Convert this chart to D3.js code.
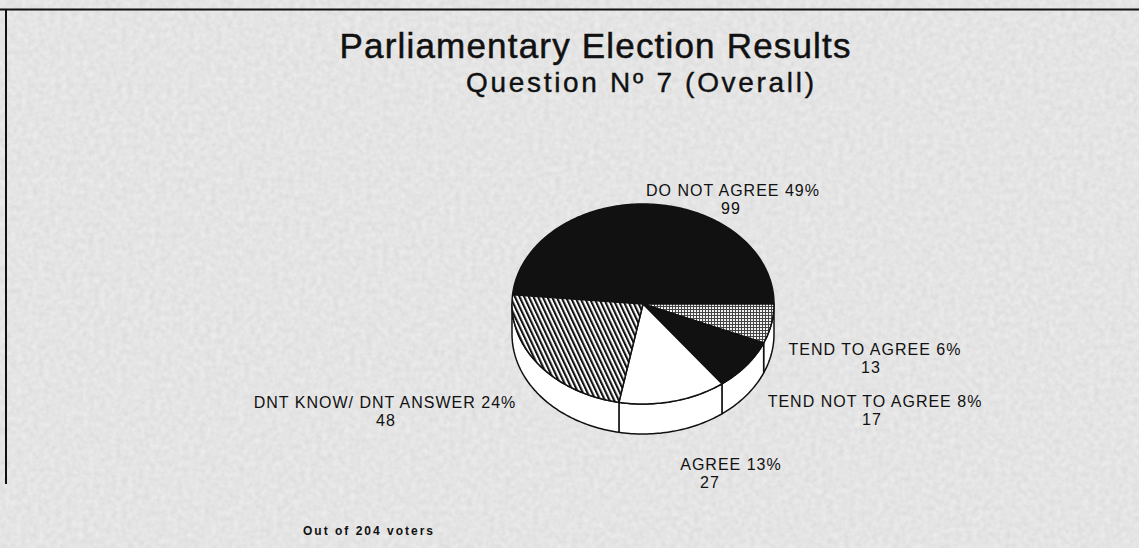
<!DOCTYPE html>
<html>
<head>
<meta charset="utf-8">
<script src="https://cdn.jsdelivr.net/npm/d3@7"></script>
<style>
  html, body { margin: 0; padding: 0; background: #ececec; }
  svg { display: block; }
</style>
</head>
<body>
<svg id="chart" width="1139" height="548"></svg>
<script>
// Survey answers for question 7, overall
const categories = ["DO NOT AGREE", "TEND TO AGREE", "TEND NOT TO AGREE", "AGREE", "DNT KNOW/ DNT ANSWER"];
const counts = [99, 13, 17, 27, 48];
const percents = [49, 6, 8, 13, 24];
const totalVoters = 204;

const titleText = "Parliamentary Election Results";
const subtitleText = "Question N\u00BA 7 (Overall)";

// Layout
const W = 1139, H = 548;
const pieC = { x: 643, y: 304 }, rx = 131, ry = 100, depth = 30;
const fills = ["#111", "url(#grid)", "#111", "#fff", "url(#hatch)"];
const labelAnchor = [[733, 196], [875, 355], [875, 407], [731, 470], [385, 408]];
const countAnchor = [[731, 214], [871, 373], [872, 425], [710, 488], [386, 426]];

const svg = d3.select("#chart");

// Paper background with fine grain
const defs = svg.append("defs");
const noise = defs.append("filter").attr("id", "grain").attr("x", 0).attr("y", 0).attr("width", "100%").attr("height", "100%");
noise.append("feTurbulence").attr("type", "fractalNoise").attr("baseFrequency", 0.18).attr("numOctaves", 2).attr("seed", 4);
noise.append("feColorMatrix").attr("type", "matrix")
  .attr("values", "0 0 0 0 0  0 0 0 0 0  0 0 0 0 0  0 0 0 0.09 0");

const hatch = defs.append("pattern").attr("id", "hatch").attr("patternUnits", "userSpaceOnUse")
  .attr("width", 4.2).attr("height", 4.2).attr("patternTransform", "rotate(-25)");
hatch.append("rect").attr("width", 4.2).attr("height", 4.2).attr("fill", "#fff");
hatch.append("rect").attr("width", 2.1).attr("height", 4.2).attr("fill", "#111");

const grid = defs.append("pattern").attr("id", "grid").attr("patternUnits", "userSpaceOnUse")
  .attr("width", 3).attr("height", 3);
grid.append("rect").attr("width", 3).attr("height", 3).attr("fill", "#f2f2f2");
grid.append("rect").attr("width", 3).attr("height", 1).attr("fill", "#444");
grid.append("rect").attr("width", 1).attr("height", 3).attr("fill", "#444");

svg.append("rect").attr("width", W).attr("height", H).attr("fill", "#efefef");
svg.append("rect").attr("width", W).attr("height", H).attr("filter", "url(#grain)");

// Frame lines
svg.append("line").attr("x1", 0).attr("x2", W).attr("y1", 9.5).attr("y2", 9.5)
  .attr("stroke", "#111").attr("stroke-width", 2);
svg.append("line").attr("x1", 6).attr("x2", 6).attr("y1", 9).attr("y2", 484)
  .attr("stroke", "#111").attr("stroke-width", 2);

// Titles
svg.append("text").attr("x", 595).attr("y", 58).attr("text-anchor", "middle")
  .attr("font-family", "Liberation Sans, Arial, sans-serif").attr("font-size", 35)
  .attr("textLength", 511).attr("lengthAdjust", "spacing")
  .attr("fill", "#111").attr("stroke", "#111").attr("stroke-width", 0.5)
  .text(titleText);
svg.append("text").attr("x", 640).attr("y", 92).attr("text-anchor", "middle")
  .attr("font-family", "Liberation Sans, Arial, sans-serif").attr("font-size", 28)
  .attr("textLength", 348).attr("lengthAdjust", "spacing")
  .attr("fill", "#111").attr("stroke", "#111").attr("stroke-width", 0.4)
  .text(subtitleText);

// Pie layout: the largest slice ends at the right-hand side of the ellipse
const a0 = Math.PI / 2 - 2 * Math.PI * counts[0] / d3.sum(counts);
const pie = d3.pie().sort(null).startAngle(a0).endAngle(a0 + 2 * Math.PI);
const arcs = pie(counts);

const px = a => pieC.x + rx * Math.sin(a);
const py = a => pieC.y - ry * Math.cos(a);
const edge = (s, e, dy) => {
  const n = Math.max(2, Math.ceil(Math.abs(e - s) / 0.02));
  return d3.range(n + 1).map(i => {
    const a = s + (e - s) * i / n;
    return [px(a), py(a) + dy];
  });
};
const pathGen = d3.line();

// Side walls on the front half of the pie
const front0 = Math.PI / 2, front1 = 3 * Math.PI / 2;
const wallLayer = svg.append("g");
arcs.forEach(d => {
  const s = Math.max(d.startAngle, front0), e = Math.min(d.endAngle, front1);
  if (e <= s) return;
  const pts = edge(s, e, 0).concat(edge(e, s, depth));
  wallLayer.append("path").attr("d", pathGen(pts) + "Z")
    .attr("fill", "#fff").attr("stroke", "#111").attr("stroke-width", 1.5)
    .attr("stroke-linejoin", "round");
});

// Top face slices
const faceLayer = svg.append("g");
arcs.forEach((d, i) => {
  const pts = [[pieC.x, pieC.y]].concat(edge(d.startAngle, d.endAngle, 0));
  faceLayer.append("path").attr("d", pathGen(pts) + "Z")
    .attr("fill", fills[i]).attr("stroke", "#111").attr("stroke-width", 1.5)
    .attr("stroke-linejoin", "round");
});

// Slice labels
const labelLayer = svg.append("g").attr("font-family", "Liberation Sans, Arial, sans-serif")
  .attr("font-size", 16).attr("letter-spacing", 1).attr("fill", "#111").attr("text-anchor", "middle");
categories.forEach((c, i) => {
  labelLayer.append("text").attr("x", labelAnchor[i][0]).attr("y", labelAnchor[i][1])
    .text(`${c} ${percents[i]}%`);
  labelLayer.append("text").attr("x", countAnchor[i][0]).attr("y", countAnchor[i][1])
    .text(counts[i]);
});

svg.append("text").attr("x", 303).attr("y", 535)
  .attr("font-family", "Liberation Sans, Arial, sans-serif").attr("font-size", 12)
  .attr("font-weight", "bold").attr("letter-spacing", 2).attr("fill", "#111")
  .text(`Out of ${totalVoters} voters`);
</script>
</body>
</html>
